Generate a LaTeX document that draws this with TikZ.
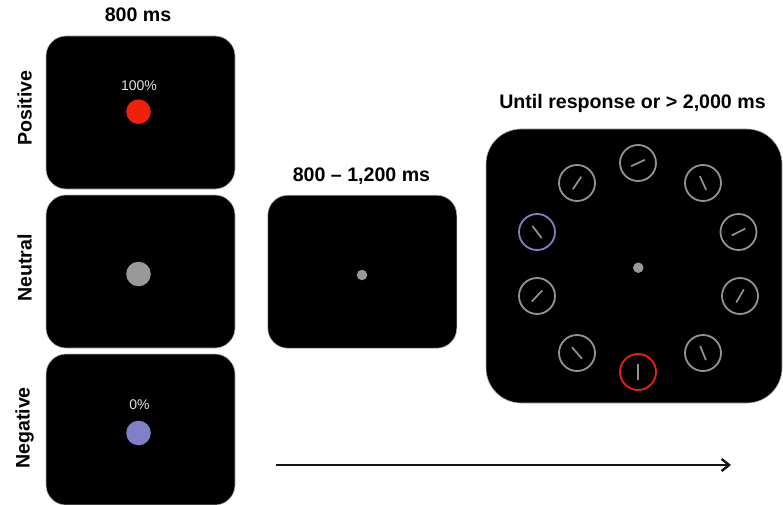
\documentclass[tikz,border=0pt]{standalone}
\usepackage{fontspec}
\setmainfont{Liberation Sans}
\usetikzlibrary{calc,arrows.meta}

\definecolor{cuered}{HTML}{EE220C}
\definecolor{cuepurple}{HTML}{8080C8}
\definecolor{cuegray}{HTML}{999999}
\definecolor{ringgray}{HTML}{939393}
\definecolor{labelgray}{HTML}{E4E4E4}

\tikzset{
  panel/.style={rectangle, rounded corners=20pt, fill=black, draw=gray!60,
    line width=0.6pt, inner sep=0pt, minimum width=189pt, minimum height=153pt},
  bigpanel/.style={panel, rounded corners=35pt, minimum width=296pt, minimum height=274pt},
  cue/.style={circle, inner sep=0pt, minimum size=24.6pt},
  fixdot/.style={circle, fill=cuegray, inner sep=0pt, minimum size=10.5pt},
  ring/.style={circle, draw=ringgray, line width=1.8pt, inner sep=0pt, minimum size=36pt},
  tickmark/.style={ringgray, line width=1.7pt},
  heading/.style={font=\fontsize{19.6}{22}\selectfont\bfseries, inner sep=0pt},
  sidelabel/.style={heading, rotate=90},
  pct/.style={font=\fontsize{14}{16}\selectfont, text=labelgray, inner sep=0pt},
  timeline/.style={line width=2.2pt, color=black!92, -{Straight Barb[length=7.5pt, width=12pt, line width=2.4pt]}}
}

\begin{document}
\begin{tikzpicture}[x=1pt, y=-1pt]
\useasboundingbox (0,0) rectangle (783,505);

% cue phase
\node[heading] (tcue) at (138,15) {800 ms};
\node[panel] (pos) at (140.5,112.5) {};
\node[panel] (neu) at (140.5,271.5) {};
\node[panel, minimum height=151pt] (neg) at (140.5,429.5) {};

\node[sidelabel] (lpos) at (24.5,108) {Positive};
\node[sidelabel] (lneu) at (24.5,268) {Neutral};
\node[sidelabel] (lneg) at (24.5,428) {Negative};

\node[pct] (ppos) at (139,86) {100\%};
\node[cue, fill=cuered] (dpos) at (138.5,111.7) {};
\node[cue, fill=cuegray] (dneu) at (138.5,274) {};
\node[pct] (pneg) at (139.5,405) {0\%};
\node[cue, fill=cuepurple] (dneg) at (138.5,433) {};

% fixation phase
\node[heading] (tfix) at (361.5,176.5) {800 -- 1,200 ms};
\node[panel] (fix) at (362.3,271.7) {};
\node[fixdot] (dfix) at (362,275) {};

% search phase
\node[heading] (tsearch) at (632.5,103) {Until response or > 2,000 ms};
\node[bigpanel] (search) at (634,266) {};
\node[fixdot] (dsearch) at (638.3,267.7) {};

\foreach \name/\x/\y/\a/\col in {
    s1/638/163/-25/ringgray,
    s2/703/183/66/ringgray,
    s3/738.5/232/-27/ringgray,
    s4/740/296/-60/ringgray,
    s5/703/353/68/ringgray,
    s6/638/372/90/cuered,
    s7/577/353/-131/ringgray,
    s8/537/296/-47/ringgray,
    s9/537/232/-127/cuepurple,
    s10/577/183/-56/ringgray} {
  \node[ring, draw=\col] (\name) at (\x,\y) {};
  \draw[tickmark] ($(\name)+(\a:7.6)$) -- ($(\name)+(\a+180:7.6)$);
}

% time axis
\coordinate (t0) at (276,465);
\coordinate (t1) at (731,465);
\draw[timeline] (t0) -- (t1);
\end{tikzpicture}
\end{document}
